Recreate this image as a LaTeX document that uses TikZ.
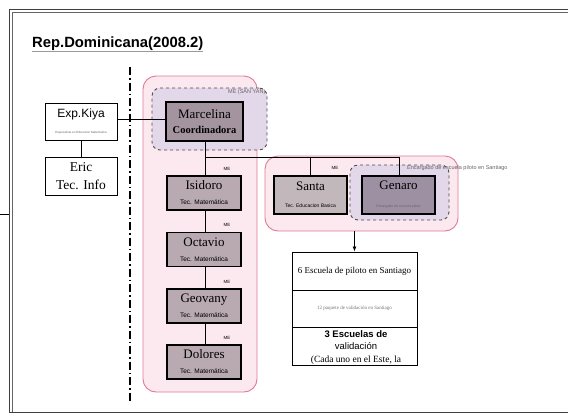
\documentclass[tikz,border=0pt]{standalone}
\usepackage{fontspec}
\setmainfont{Liberation Serif}
\newfontfamily\sansf{Liberation Sans}
\usetikzlibrary{arrows.meta}
\definecolor{pinkfill}{HTML}{FBE9EF}
\definecolor{pinkline}{HTML}{E07A95}
\definecolor{lavfill}{HTML}{E3D7EA}
\definecolor{boxA}{HTML}{A3949F}
\definecolor{boxB}{HTML}{B8AAB0}
\definecolor{boxC}{HTML}{C2B7BB}
\definecolor{boxD}{HTML}{9E90A3}
\begin{document}
\begin{tikzpicture}[x=1pt,y=-1pt,
  region/.style={draw=pinkline,line width=0.9pt,fill=pinkfill,rounded corners=13pt,inner sep=0pt},
  dregion/.style={draw=black!70,dashed,line width=0.9pt,fill=lavfill,rounded corners=8pt,inner sep=0pt},
  person/.style={draw=black,line width=1.6pt,inner sep=0pt,align=center,font=\fontsize{13}{14}\selectfont},
  plain/.style={draw=black,line width=0.8pt,fill=white,inner sep=0pt,align=center},
  cell/.style={draw=black,line width=0.9pt,fill=white,inner sep=0pt,align=center,minimum width=125pt},
  conn/.style={draw=black,line width=0.8pt},
  small/.style={font=\sansf\fontsize{4.5}{5}\selectfont,inner sep=0pt}
]
\useasboundingbox (0,0) rectangle (568,416);
\fill[white] (0,0) rectangle (568,416);
% outer frame
\draw[black!75,line width=0.9pt] (575,9) -- (9,9) -- (9,412) -- (575,412);
\draw[black!60,line width=0.6pt] (575,12.5) -- (12.5,12.5) -- (12.5,412);
\draw[black,line width=0.8pt] (0,214) -- (9,214);
% title
\node[anchor=base west,inner sep=0pt,font=\sansf\bfseries\fontsize{14.8}{17}\selectfont] (title) at (32,47) {Rep.Dominicana(2008.2)};
\draw[black!40,line width=0.4pt] ([yshift=-1pt]title.south west) -- ([yshift=-1pt]title.south east);
% dash-dot separator
\coordinate (sepT) at (130,67);
\coordinate (sepB) at (130,402);
\draw[black,line width=1.7pt,dash pattern=on 8pt off 3pt on 1.5pt off 3pt] (sepT) -- (sepB);
% regions
\node[region,minimum width=114pt,minimum height=316pt] (lreg) at (200,234) {};
\node[dregion,minimum width=115pt,minimum height=62pt] (mreg) at (209.5,119) {};
\node[region,minimum width=193pt,minimum height=75pt] (rreg) at (361.5,193.5) {};
\node[dregion,minimum width=99pt,minimum height=55pt] (greg) at (399.5,192.5) {};
\node[small,font=\sansf\fontsize{5.5}{6}\selectfont,text=black!60,anchor=west] (melab) at (228,92) {ME (SAN YAN)};
% connector points
\coordinate (hub) at (205,157);
\coordinate (sanT) at (310,157);
\coordinate (genT) at (399,157);
% people
\node[person,fill=boxA,minimum width=77pt,minimum height=39pt] (marc) at (204.5,121.5)
  {Marcelina\\[1pt]{\bfseries\fontsize{10.5}{12}\selectfont Coordinadora}};
\node[person,fill=boxB,minimum width=74pt,minimum height=34pt] (isi) at (204,193)
  {Isidoro\\[1pt]{\sansf\fontsize{6.5}{7}\selectfont Tec. Matemática}};
\node[person,fill=boxB,minimum width=74pt,minimum height=34pt] (oct) at (204,249.5)
  {Octavio\\[1pt]{\sansf\fontsize{6.5}{7}\selectfont Tec. Matemática}};
\node[person,fill=boxB,minimum width=74pt,minimum height=34pt] (geo) at (204,306)
  {Geovany\\[1pt]{\sansf\fontsize{6.5}{7}\selectfont Tec. Matemática}};
\node[person,fill=boxB,minimum width=74pt,minimum height=34pt] (dol) at (204,362)
  {Dolores\\[1pt]{\sansf\fontsize{6.5}{7}\selectfont Tec. Matemática}};
\node[person,fill=boxC,minimum width=73pt,minimum height=38pt] (san) at (310.5,195)
  {Santa\\[3pt]{\sansf\fontsize{5}{6}\selectfont Tec. Educacion Basica}};
\node[person,fill=boxD,minimum width=73pt,minimum height=38pt] (gen) at (398.5,195)
  {Genaro\\[4pt]{\sansf\fontsize{3.5}{4}\selectfont\color{black!60} Encargado de escuela piloto}};
\node[plain,minimum width=72pt,minimum height=37pt] (kiya) at (81,121.5)
  {{\sansf\fontsize{12}{13}\selectfont Exp.Kiya}\\[4pt]{\sansf\fontsize{3}{4}\selectfont\color{black!60} Especialista en Educacion Matematica}};
\node[plain,minimum width=72pt,minimum height=38pt,font=\fontsize{13.5}{18.5}\selectfont] (eric) at (81,176)
  {Eric\\Tec. Info};
% ME labels
\node[small] (me1) at (227,169) {ME};
\node[small] (me2) at (227,225) {ME};
\node[small] (me3) at (227,282) {ME};
\node[small] (me4) at (227,338) {ME};
\node[small] (me5) at (335,168) {ME};
\node[small,font=\sansf\fontsize{5.5}{6}\selectfont,text=black!60,anchor=west] (glab) at (407,168) {Encargado de escuela piloto en Santiago};
% connectors
\draw[conn] (kiya.east |- 0,119) -- (marc.west |- 0,119);
\draw[conn] (kiya) -- (eric);
\draw[conn] (marc.south -| hub) -- (isi.north -| hub);
\draw[conn] (isi.south -| hub) -- (oct.north -| hub);
\draw[conn] (oct.south -| hub) -- (geo.north -| hub);
\draw[conn] (geo.south -| hub) -- (dol.north -| hub);
\draw[conn] (hub) -- (genT) -- (gen.north -| genT);
\draw[conn] (sanT) -- (san.north -| sanT);
% table
\node[cell,minimum height=38pt] (row1) at (354.5,271)
  {\fontsize{9}{10}\selectfont 6 Escuela de piloto en Santiago};
\node[cell,minimum height=37pt] (row2) at (354.5,308.5)
  {\fontsize{5}{6}\selectfont\color{black!55} 12 paquete de validación en Santiago};
\node[cell,minimum height=38pt] (row3) at (354.5,346) {};
\begin{scope}
\clip (row3.north west) rectangle (row3.south east);
\node[inner sep=0pt,align=center,anchor=north] (row3t) at (356,330)
  {{\sansf\bfseries\fontsize{9.5}{11}\selectfont 3 Escuelas de}\\[0pt]
   {\sansf\fontsize{9.5}{11}\selectfont validación\hspace{10pt}}\\[1pt]
   {\fontsize{9.5}{11}\selectfont (Cada uno en el Este, la}};
\end{scope}
\draw[black,line width=0.9pt] (row3.south west) -- (row3.south east);
\draw[conn,-{Latex[length=5pt,width=4pt]}] (rreg.south -| row1.north) -- (row1.north);
\end{tikzpicture}
\end{document}
